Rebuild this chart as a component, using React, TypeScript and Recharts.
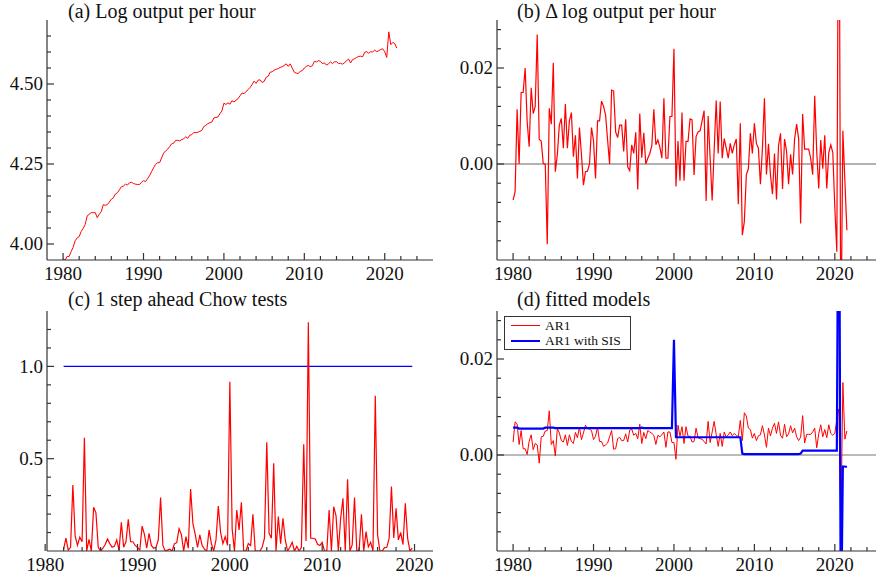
import React from 'react'
import { LineChart, Line, XAxis, YAxis, ReferenceLine, Legend } from 'recharts'

const FONT = 'Liberation Serif, "Times New Roman", Times, serif'
const AXIS = '#333'
const RED = '#ff0000'
const BLUE = '#0000ff'

// quarterly sample, 1980Q1 .. 2021Q3
const sampleStart = 1980
// recursive Chow tests start two years in
const chowStart = 1982

const logOutput = [
  3.955, 3.949, 3.961, 3.961, 3.976, 3.99, 4.01, 4.019, 4.023, 4.039,
  4.049, 4.061, 4.088, 4.093, 4.098, 4.098, 4.098, 4.082, 4.093, 4.101,
  4.123, 4.121, 4.123, 4.131, 4.14, 4.144, 4.156, 4.16, 4.169, 4.179,
  4.181, 4.187, 4.184, 4.191, 4.193, 4.189, 4.187, 4.186, 4.186, 4.193,
  4.198, 4.195, 4.204, 4.213, 4.226, 4.238, 4.249, 4.254, 4.254, 4.269,
  4.284, 4.291, 4.296, 4.304, 4.313, 4.315, 4.324, 4.324, 4.322, 4.326,
  4.329, 4.335, 4.33, 4.34, 4.342, 4.348, 4.348, 4.349, 4.352, 4.355,
  4.367, 4.371, 4.376, 4.379, 4.381, 4.394, 4.395, 4.397, 4.407, 4.416,
  4.44, 4.436, 4.441, 4.437, 4.448, 4.444, 4.449, 4.454, 4.463, 4.472,
  4.47, 4.476, 4.482, 4.489, 4.498, 4.509, 4.502, 4.512, 4.513, 4.505,
  4.508, 4.521, 4.524, 4.537, 4.538, 4.543, 4.546, 4.548, 4.552, 4.554,
  4.558, 4.563, 4.555, 4.563, 4.549, 4.537, 4.534, 4.533, 4.54, 4.542,
  4.55, 4.555, 4.558, 4.554, 4.557, 4.571, 4.569, 4.573, 4.571, 4.564,
  4.566, 4.559, 4.563, 4.569, 4.564, 4.569, 4.57, 4.564, 4.565, 4.562,
  4.566, 4.573, 4.578, 4.566, 4.576, 4.579, 4.583, 4.586, 4.587, 4.585,
  4.599, 4.601, 4.596, 4.601, 4.6, 4.606, 4.601, 4.604, 4.608, 4.61,
  4.601, 4.583, 4.663, 4.623, 4.63, 4.626, 4.612,
]

const dLogOutput = [
  -0.0075, -0.0058, 0.0114, 0, 0.0149, 0.0149, 0.02, 0.0088, 0.0036, 0.0159,
  0.0105, 0.012, 0.027, 0.0051, 0.0048, 0.0001, 0, -0.0167, 0.0116, 0.0083,
  0.0211, -0.0016, 0.0019, 0.0081, 0.0095, 0.0033, 0.0125, 0.0033, 0.009, 0.0107,
  0.0015, 0.006, -0.003, 0.0076, 0.002, -0.0044, -0.0016, -0.0015, 0, 0.0076,
  0.0048, -0.003, 0.009, 0.009, 0.0131, 0.012, 0.0102, 0.005, 0, 0.0154,
  0.0152, 0.0067, 0.0055, 0.0081, 0.0081, 0.0026, 0.0093, -0.0006, -0.0014, 0.004,
  0.0022, 0.0066, -0.0053, 0.0105, 0.0013, 0.0065, 0, 0.0012, 0.0022, 0.0038,
  0.0114, 0.004, 0.005, 0.0035, 0.0012, 0.0137, 0.0012, 0.0012, 0.0099, 0.0099,
  0.024, -0.0047, 0.0048, -0.0035, 0.0107, -0.0035, 0.0047, 0.0047, 0.0094, 0.0092,
  -0.0023, 0.0057, 0.0067, 0.0069, 0.009, 0.0111, -0.0077, 0.01, 0.0012, -0.0076,
  0.0029, 0.0132, 0.0022, 0.013, 0.0012, 0.0053, 0.0033, 0.0012, 0.0043, 0.0022,
  0.004, 0.0052, -0.0084, 0.0085, -0.0148, -0.012, -0.0022, -0.001, 0.0064, 0.0022,
  0.0085, 0.0043, 0.0033, -0.0042, 0.0033, 0.0137, -0.0022, 0.0042, -0.0023, -0.0063,
  0.0022, -0.0074, 0.0038, 0.0064, -0.0052, 0.0052, 0.0027, -0.0042, 0.002, -0.0022,
  0.0052, 0.0083, 0.0053, -0.0124, 0.0104, 0.0031, 0.0031, 0.0031, 0.0012, -0.0022,
  0.0142, 0.0026, -0.0051, 0.005, -0.001, 0.006, -0.0051, 0.0024, 0.004, 0.0024,
  -0.009, -0.0183, 0.08, -0.04, 0.0069, -0.0035, -0.0138,
]

const chowTests = [
  0.01, 0.07, 0.005, 0.02, 0.357, 0.08, 0.03, 0.075, 0.05, 0.614,
  0, 0.063, 0, 0.237, 0.207, 0.02, 0, 0.015, 0.035, 0.065,
  0.04, 0.02, 0.025, 0.06, 0.005, 0.155, 0.02, 0.05, 0.172, 0.05,
  0.05, 0.03, 0.02, 0.005, 0.135, 0.09, 0.015, 0.096, 0.03, 0.015,
  0.02, 0.06, 0.289, 0.03, 0, 0.005, 0.01, 0, 0.04, 0.045,
  0.121, 0.09, 0, 0.078, 0.015, 0.336, 0.15, 0.09, 0.02, 0.087,
  0.03, 0.01, 0, 0.114, 0.04, 0, 0.06, 0.244, 0.1, 0.04,
  0.078, 0.03, 0.917, 0.12, 0, 0.222, 0.114, 0.264, 0, 0,
  0.04, 0.03, 0.199, 0, 0, 0, 0.02, 0.07, 0.589, 0.096,
  0.069, 0.475, 0, 0.186, 0.04, 0.177, 0.06, 0, 0.02, 0.047,
  0, 0.025, 0, 0.02, 0.578, 0.054, 1.239, 0.069, 0.069, 0.065,
  0.036, 0.03, 0.047, 0, 0, 0.222, 0, 0.24, 0.19, 0,
  0.177, 0.285, 0, 0.388, 0, 0.033, 0.289, 0, 0.005, 0.199,
  0, 0.105, 0.023, 0.047, 0, 0.841, 0.087, 0, 0, 0.018,
  0.02, 0.069, 0.349, 0.07, 0.231, 0.06, 0.1, 0.035, 0.258, 0.07,
  0, 0.015,
]
const chowCritical = 1

const fitAR1 = [
  0.0027, 0.0069, 0.0065, 0.0022, 0.0051, 0.0013, 0.0013, 0.0001, 0.0029, 0.0042,
  0.0011, 0.0024, 0.0021, -0.0017, 0.0038, 0.0039, 0.005, 0.0051, 0.0092, 0.0022,
  0.003, -0.0002, 0.0055, 0.0046, 0.003, 0.0027, 0.0042, 0.002, 0.0042, 0.0028,
  0.0024, 0.0047, 0.0036, 0.0058, 0.0032, 0.0046, 0.0062, 0.0055, 0.0054, 0.0051,
  0.0032, 0.0039, 0.0058, 0.0028, 0.0028, 0.0018, 0.0021, 0.0025, 0.0038, 0.0051,
  0.0012, 0.0013, 0.0034, 0.0037, 0.003, 0.003, 0.0044, 0.0027, 0.0052, 0.0054,
  0.0041, 0.0045, 0.0034, 0.0064, 0.0024, 0.0047, 0.0034, 0.0051, 0.0048, 0.0045,
  0.0041, 0.0022, 0.0041, 0.0038, 0.0042, 0.0048, 0.0016, 0.0048, 0.0048, 0.0026,
  0.0026, -0.0009, 0.0062, 0.0039, 0.0059, 0.0024, 0.0059, 0.0039, 0.0039, 0.0027,
  0.0028, 0.0056, 0.0036, 0.0034, 0.0033, 0.0028, 0.0023, 0.007, 0.0026, 0.0048,
  0.007, 0.0043, 0.0018, 0.0045, 0.0018, 0.0048, 0.0037, 0.0042, 0.0048, 0.004,
  0.0045, 0.0041, 0.0038, 0.0072, 0.003, 0.0088, 0.0081, 0.0056, 0.0053, 0.0035,
  0.0045, 0.003, 0.004, 0.0042, 0.0061, 0.0042, 0.0016, 0.0056, 0.004, 0.0056,
  0.0066, 0.0045, 0.0069, 0.0041, 0.0035, 0.0064, 0.0038, 0.0044, 0.0061, 0.0046,
  0.0056, 0.0038, 0.003, 0.0037, 0.0082, 0.0025, 0.0043, 0.0043, 0.0043, 0.0048,
  0.0056, 0.0015, 0.0044, 0.0063, 0.0038, 0.0053, 0.0036, 0.0063, 0.0045, 0.0041,
  0.0045, 0.0073, 0.0096, -0.0149, 0.0151, 0.0033, 0.005,
]

const fitSIS = [
  0.0057, 0.0057, 0.0057, 0.0055, 0.0055, 0.0055, 0.0055, 0.0055, 0.0055, 0.0055,
  0.0055, 0.0055, 0.0055, 0.0055, 0.0055, 0.0055, 0.0057, 0.0057, 0.0057, 0.0057,
  0.0057, 0.0056, 0.0056, 0.0056, 0.0056, 0.0056, 0.0056, 0.0056, 0.0056, 0.0056,
  0.0056, 0.0056, 0.0056, 0.0056, 0.0056, 0.0056, 0.0056, 0.0056, 0.0056, 0.0056,
  0.0056, 0.0056, 0.0056, 0.0056, 0.0056, 0.0056, 0.0056, 0.0056, 0.0056, 0.0056,
  0.0056, 0.0056, 0.0056, 0.0056, 0.0056, 0.0056, 0.0056, 0.0056, 0.0056, 0.0056,
  0.0056, 0.0056, 0.0056, 0.0056, 0.0057, 0.0056, 0.0056, 0.0056, 0.0056, 0.0056,
  0.0056, 0.0056, 0.0056, 0.0056, 0.0056, 0.0056, 0.0056, 0.0056, 0.0056, 0.0056,
  0.024, 0.0037, 0.0037, 0.0037, 0.0037, 0.0037, 0.0037, 0.0037, 0.0037, 0.0037,
  0.0037, 0.0037, 0.0037, 0.0037, 0.0037, 0.0037, 0.0037, 0.0037, 0.0037, 0.0037,
  0.0037, 0.0037, 0.0037, 0.0037, 0.0037, 0.0037, 0.0037, 0.0037, 0.0037, 0.0037,
  0.0037, 0.0037, 0.0037, 0.0037, 0.0003, 0.0002, 0.0002, 0.0002, 0.0002, 0.0002,
  0.0002, 0.0002, 0.0002, 0.0002, 0.0002, 0.0002, 0.0002, 0.0002, 0.0002, 0.0002,
  0.0002, 0.0002, 0.0002, 0.0002, 0.0002, 0.0002, 0.0002, 0.0002, 0.0002, 0.0002,
  0.0002, 0.0002, 0.0002, 0.0003, 0.0009, 0.0009, 0.0009, 0.0009, 0.0009, 0.0009,
  0.0009, 0.0009, 0.0009, 0.0009, 0.0009, 0.0009, 0.0009, 0.0009, 0.0009, 0.0009,
  0.0009, 0.0009, 0.08, -0.04, -0.0024, -0.0024, -0.0025,
]

const panelTitles = [
  '(a) Log output per hour',
  '(b) \u0394 log output per hour',
  '(c) 1 step ahead Chow tests',
  '(d) fitted models',
]

const yearTicks = [1980, 1982, 1984, 1986, 1988, 1990, 1992, 1994, 1996, 1998, 2000, 2002, 2004, 2006, 2008, 2010, 2012, 2014, 2016, 2018, 2020, 2022, 2024]
const chowYearTicks = [1980, 1982, 1984, 1986, 1988, 1990, 1992, 1994, 1996, 1998, 2000, 2002, 2004, 2006, 2008, 2010, 2012, 2014, 2016, 2018, 2020]
const decades = [1980, 1990, 2000, 2010, 2020]
const levelTicks = [4, 4.05, 4.1, 4.15, 4.2, 4.25, 4.3, 4.35, 4.4, 4.45, 4.5, 4.55, 4.6, 4.65]
const levelMajor = [4, 4.25, 4.5]
const growthTicks = [-0.016, -0.012, -0.008, -0.004, 0, 0.004, 0.008, 0.012, 0.016, 0.02, 0.024, 0.028]
const growthMajor = [0, 0.02]
const chowTicks = [0.1, 0.2, 0.3, 0.4, 0.5, 0.6, 0.7, 0.8, 0.9, 1, 1.1, 1.2]
const chowMajor = [0.5, 1]

const quarter = (start: number, i: number) => start + i / 4

const levelRows = logOutput.map((v, i) => ({ t: quarter(sampleStart, i), v }))
const growthRows = dLogOutput.map((v, i) => ({ t: quarter(sampleStart, i), v }))
const chowRows = chowTests.map((v, i) => ({ t: quarter(chowStart, i), v, crit: chowCritical }))
const fitRows = fitAR1.map((v, i) => ({ t: quarter(sampleStart, i), ar1: v, sis: fitSIS[i] }))

const isMajor = (v: number, list: number[]) => list.some(m => Math.abs(m - v) < 1e-9)

// ticks point inwards, labels only on the major ones
function xTick(majors: number[]) {
  return (p: any) => {
    const { x, y, payload } = p
    const major = isMajor(payload.value, majors)
    return (
      <g>
        <line x1={x} y1={y} x2={x} y2={y - (major ? 7 : 4)} stroke={AXIS} strokeWidth={1.2} />
        {major && (
          <text x={x} y={y + 20} textAnchor="middle" fontSize={19} fontFamily={FONT} fill="#111">
            {payload.value}
          </text>
        )}
      </g>
    )
  }
}

function yTick(majors: number[], digits: number) {
  return (p: any) => {
    const { x, y, payload } = p
    const major = isMajor(payload.value, majors)
    return (
      <g>
        <line x1={x} y1={y} x2={x + (major ? 7 : 4)} y2={y} stroke={AXIS} strokeWidth={1.2} />
        {major && (
          <text x={x - 4} y={y} dy="0.34em" textAnchor="end" fontSize={19} fontFamily={FONT} fill="#111">
            {payload.value.toFixed(digits)}
          </text>
        )}
      </g>
    )
  }
}

const axisLine = { stroke: AXIS, strokeWidth: 1.2 }
const legendWidths: Record<string, number> = { AR1: 1, 'AR1 with SIS': 2 }

function FitLegend({ payload }: any) {
  return (
    <div style={{ border: '1px solid #333', background: '#fff', padding: '1px 9px 1px 6px', fontFamily: FONT, fontSize: 13.5, lineHeight: '15px', color: '#111' }}>
      {(payload || []).map((e: any) => (
        <div key={e.value} style={{ display: 'flex', alignItems: 'center', height: 15, whiteSpace: 'nowrap' }}>
          <span style={{ display: 'inline-block', width: 29, height: 0, borderTop: `${legendWidths[e.value] || 1}px solid ${e.color}`, marginRight: 5 }} />
          {e.value}
        </div>
      ))}
    </div>
  )
}

export default function App() {
  return (
    <div style={{ position: 'absolute', left: 0, top: 0, width: 876, height: 579, background: '#fff', fontFamily: FONT }}>
      {/* (a) level */}
      <div style={{ position: 'absolute', left: 0, top: 0 }}>
        <LineChart width={440} height={290} data={levelRows} margin={{ top: 20, right: 7, bottom: 0, left: 0 }}>
          <XAxis dataKey="t" type="number" domain={[1978, 2026]} ticks={yearTicks} interval={0} height={30}
            tickSize={0} tickMargin={0} tickLine={false} axisLine={axisLine} tick={xTick(decades)} allowDataOverflow />
          <YAxis type="number" domain={[3.95, 4.7]} ticks={levelTicks} interval={0} width={47}
            tickSize={0} tickMargin={0} tickLine={false} axisLine={axisLine} tick={yTick(levelMajor, 2)} allowDataOverflow />
          <Line type="linear" dataKey="v" stroke={RED} strokeWidth={1} dot={false} isAnimationActive={false} />
        </LineChart>
      </div>

      {/* (b) growth */}
      <div style={{ position: 'absolute', left: 440, top: 0 }}>
        <LineChart width={436} height={290} data={growthRows} margin={{ top: 20, right: 0, bottom: 0, left: 0 }}>
          <XAxis dataKey="t" type="number" domain={[1978, 2025.12]} ticks={yearTicks} interval={0} height={30}
            tickSize={0} tickMargin={0} tickLine={false} axisLine={axisLine} tick={xTick(decades)} allowDataOverflow />
          <YAxis type="number" domain={[-0.02, 0.03]} ticks={growthTicks} interval={0} width={57}
            tickSize={0} tickMargin={0} tickLine={false} axisLine={axisLine} tick={yTick(growthMajor, 2)} allowDataOverflow />
          <ReferenceLine y={0} stroke="#999" strokeWidth={1.5} />
          <Line type="linear" dataKey="v" stroke={RED} strokeWidth={1.2} dot={false} isAnimationActive={false} />
        </LineChart>
      </div>

      {/* (c) Chow tests */}
      <div style={{ position: 'absolute', left: 0, top: 290 }}>
        <LineChart width={440} height={289} data={chowRows} margin={{ top: 21, right: 7, bottom: 0, left: 0 }}>
          <XAxis dataKey="t" type="number" domain={[1980.2, 2022]} ticks={chowYearTicks} interval={0} height={28}
            tickSize={0} tickMargin={0} tickLine={false} axisLine={axisLine} tick={xTick(decades)} allowDataOverflow />
          <YAxis type="number" domain={[0, 1.3]} ticks={chowTicks} interval={0} width={47}
            tickSize={0} tickMargin={0} tickLine={false} axisLine={axisLine} tick={yTick(chowMajor, 1)} allowDataOverflow />
          <Line type="linear" dataKey="crit" stroke={BLUE} strokeWidth={1.2} dot={false} isAnimationActive={false} />
          <Line type="linear" dataKey="v" stroke={RED} strokeWidth={1.2} dot={false} isAnimationActive={false} />
        </LineChart>
      </div>

      {/* (d) fitted models */}
      <div style={{ position: 'absolute', left: 440, top: 290 }}>
        <LineChart width={436} height={289} data={fitRows} margin={{ top: 21, right: 0, bottom: 0, left: 0 }}>
          <XAxis dataKey="t" type="number" domain={[1978, 2025.12]} ticks={yearTicks} interval={0} height={28}
            tickSize={0} tickMargin={0} tickLine={false} axisLine={axisLine} tick={xTick(decades)} allowDataOverflow />
          <YAxis type="number" domain={[-0.02, 0.03]} ticks={growthTicks} interval={0} width={57}
            tickSize={0} tickMargin={0} tickLine={false} axisLine={axisLine} tick={yTick(growthMajor, 2)} allowDataOverflow />
          <ReferenceLine y={0} stroke="#777" strokeWidth={1} />
          <Line type="linear" dataKey="ar1" name="AR1" stroke={RED} strokeWidth={1} dot={false} isAnimationActive={false} />
          <Line type="linear" dataKey="sis" name="AR1 with SIS" stroke={BLUE} strokeWidth={2.2} dot={false} isAnimationActive={false} />
          <Legend layout="vertical" align="center" verticalAlign="middle" content={<FitLegend />}
            wrapperStyle={{ left: 64, top: 26, width: 'auto', height: 'auto' }} />
        </LineChart>
      </div>

      <svg width={876} height={579} style={{ position: 'absolute', left: 0, top: 0, pointerEvents: 'none' }}>
        <text x={68} y={18} fontSize={20} fontFamily={FONT} fill="#111">{panelTitles[0]}</text>
        <text x={517} y={18} fontSize={20} fontFamily={FONT} fill="#111">{panelTitles[1]}</text>
        <text x={68} y={306} fontSize={20} fontFamily={FONT} fill="#111">{panelTitles[2]}</text>
        <text x={517} y={306} fontSize={20} fontFamily={FONT} fill="#111">{panelTitles[3]}</text>
      </svg>
    </div>
  )
}
